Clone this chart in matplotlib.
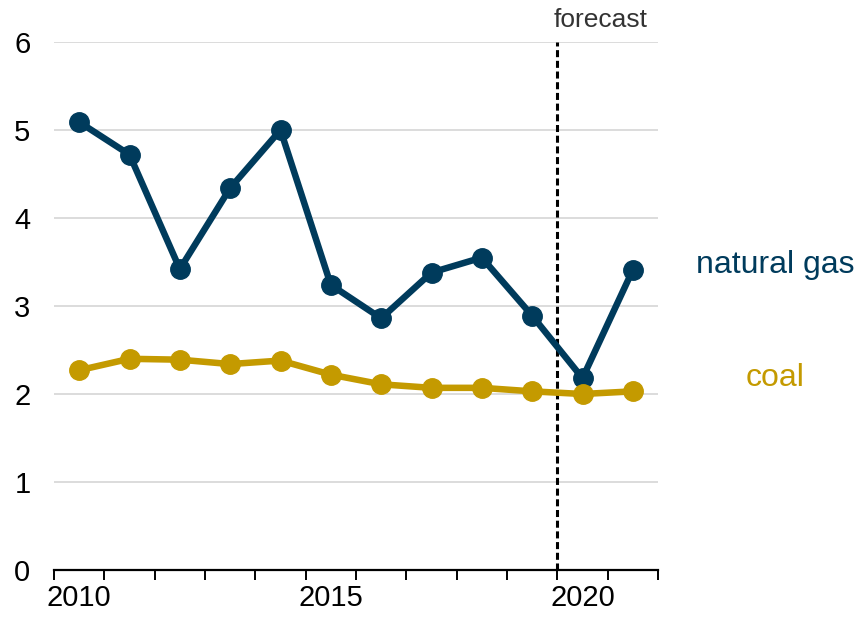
import numpy as np
import matplotlib
matplotlib.use("Agg")
import matplotlib.pyplot as plt

plt.rcParams['font.family'] = ['Liberation Sans', 'DejaVu Sans']

# ------ data ------
years = [2010, 2011, 2012, 2013, 2014, 2015, 2016, 2017, 2018, 2019, 2020, 2021]
natural_gas = [5.09, 4.72, 3.42, 4.34, 5.00, 3.24, 2.86, 3.38, 3.55, 2.89, 2.18, 3.41]
coal = [2.27, 2.40, 2.39, 2.34, 2.38, 2.22, 2.11, 2.07, 2.07, 2.03, 2.00, 2.03]
year_labels = [2010, 2015, 2020]
forecast_start = 2019.5
# ------ /data ------

gas_color = '#003b5c'
coal_color = '#c49a00'

fig = plt.figure(figsize=(8.56, 6.18), dpi=100)
ax = fig.add_axes([54/856, 1 - 570/618, 604/856, 528/618])

ax.plot(years, natural_gas, color=gas_color, lw=4.7, marker='o', ms=14, zorder=3)
ax.plot(years, coal, color=coal_color, lw=4.7, marker='o', ms=14, zorder=3)

ax.axvline(forecast_start, color='black', ls=(0, (2.3, 1.2)), lw=2.2, zorder=2)
ax.text(forecast_start - 0.08, 6.25, 'forecast', ha='left', va='center',
        fontsize=19, color='#333333')

ax.set_xlim(years[0] - 0.5, years[-1] + 0.5)
ax.set_ylim(0, 6)

ax.set_yticks(range(0, 7))
ax.yaxis.grid(True, color='#d9d9d9', lw=1.3)
ax.set_axisbelow(True)
ax.tick_params(axis='y', length=0, labelsize=21, pad=17)

ax.set_xticks(year_labels)
ax.set_xticks(np.arange(years[0] - 0.5, years[-1] + 1), minor=True)
ax.tick_params(axis='x', which='major', length=0, labelsize=21, pad=10)
ax.tick_params(axis='x', which='minor', length=7, width=1.4, color='black')

for s in ['top', 'right', 'left']:
    ax.spines[s].set_visible(False)
ax.spines['bottom'].set_linewidth(1.6)

ax.text(1.194, 3.47, 'natural gas', transform=ax.get_yaxis_transform(),
        ha='center', va='center', fontsize=23, color=gas_color)
ax.text(1.194, 2.18, 'coal', transform=ax.get_yaxis_transform(),
        ha='center', va='center', fontsize=23, color=coal_color)

fig.savefig('out.png', dpi=100)
